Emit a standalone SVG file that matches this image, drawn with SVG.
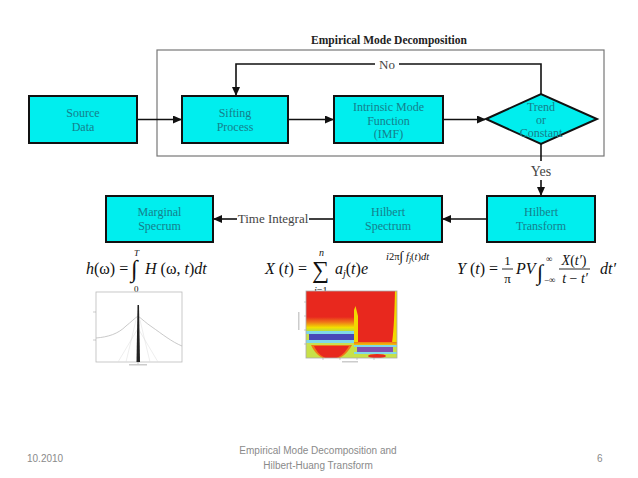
<svg xmlns="http://www.w3.org/2000/svg" width="638" height="478" viewBox="0 0 638 478">
<defs>
<style>
.box{fill:#00eeee;stroke:#111;stroke-width:2}
.bt{font-family:"Liberation Serif",serif;font-size:12px;fill:#15808c;text-anchor:middle}
.ln{fill:none;stroke:#111;stroke-width:1.6}
.lbl{font-family:"Liberation Serif",serif;font-size:13px;fill:#444;text-anchor:middle}
.fm{font-family:"Liberation Serif",serif;fill:#111;font-style:italic}
.fr{font-family:"Liberation Serif",serif;fill:#111;font-style:normal}
.ft{font-family:"Liberation Sans",sans-serif;font-size:10px;fill:#8a8a8a}
</style>
<marker id="ah" markerWidth="9" markerHeight="8" refX="8" refY="4" orient="auto" markerUnits="userSpaceOnUse">
<path d="M0,0 L9,4 L0,8 Z" fill="#111"/>
</marker>
<linearGradient id="gl" x1="0" y1="0" x2="0" y2="1">
<stop offset="0" stop-color="#e8281e"/>
<stop offset="0.35" stop-color="#f07818"/>
<stop offset="0.7" stop-color="#f2e000"/>
<stop offset="1" stop-color="#a8dc50"/>
</linearGradient>
<linearGradient id="gr" x1="0" y1="0" x2="0" y2="1">
<stop offset="0" stop-color="#f07818"/>
<stop offset="1" stop-color="#f2e000"/>
</linearGradient>
<clipPath id="cp"><rect x="306" y="291" width="91" height="67"/></clipPath>
</defs>

<g id="emd-frame">
<rect x="157" y="50" width="447" height="106" fill="none" stroke="#777" stroke-width="1.2"/>
<text x="389" y="44" font-family="Liberation Serif,serif" font-size="11.5" font-weight="bold" fill="#222" text-anchor="middle">Empirical Mode Decomposition</text>
</g>

<g id="connectors">
<line class="ln" x1="137" y1="119.5" x2="181" y2="119.5" marker-end="url(#ah)"/>
<line class="ln" x1="288" y1="119.5" x2="333" y2="119.5" marker-end="url(#ah)"/>
<line class="ln" x1="443" y1="119.5" x2="485" y2="119.5" marker-end="url(#ah)"/>
<polyline class="ln" points="541,94 541,64 399,64"/>
<polyline class="ln" points="375,64 236,64 236,95" marker-end="url(#ah)"/>
<text class="lbl" x="387" y="68.5">No</text>
<line class="ln" x1="541" y1="144" x2="541" y2="161"/>
<text class="lbl" x="541" y="176" style="font-size:14px">Yes</text>
<line class="ln" x1="541" y1="180" x2="541" y2="195" marker-end="url(#ah)"/>
<line class="ln" x1="487" y1="219" x2="443" y2="219" marker-end="url(#ah)"/>
<line class="ln" x1="334" y1="219" x2="309" y2="219"/>
<text class="lbl" x="273" y="223">Time Integral</text>
<line class="ln" x1="237" y1="219" x2="214" y2="219" marker-end="url(#ah)"/>
</g>

<g id="source-data">
<rect class="box" x="29" y="96" width="108" height="47"/>
<text class="bt" x="83" y="117">Source</text>
<text class="bt" x="83" y="131">Data</text>
</g>
<g id="sifting-process">
<rect class="box" x="182" y="96" width="106" height="47"/>
<text class="bt" x="235" y="117">Sifting</text>
<text class="bt" x="235" y="131">Process</text>
</g>
<g id="imf">
<rect class="box" x="334" y="96" width="109" height="47"/>
<text class="bt" x="388.5" y="111">Intrinsic Mode</text>
<text class="bt" x="388.5" y="125">Function</text>
<text class="bt" x="388.5" y="138">(IMF)</text>
</g>
<g id="trend-or-constant">
<polygon class="box" points="486,119 541,94 597,119 541,144"/>
<text class="bt" x="541" y="111">Trend</text>
<text class="bt" x="541" y="124">or</text>
<text class="bt" x="541" y="137">Constant</text>
</g>
<g id="hilbert-transform">
<rect class="box" x="487" y="196" width="108" height="46"/>
<text class="bt" x="541" y="216">Hilbert</text>
<text class="bt" x="541" y="230">Transform</text>
</g>
<g id="hilbert-spectrum">
<rect class="box" x="334" y="196" width="108" height="46"/>
<text class="bt" x="388" y="216">Hilbert</text>
<text class="bt" x="388" y="230">Spectrum</text>
</g>
<g id="marginal-spectrum">
<rect class="box" x="106" y="196" width="107" height="46"/>
<text class="bt" x="159.5" y="216">Marginal</text>
<text class="bt" x="159.5" y="230">Specrum</text>
</g>

<g id="formula-h" style="font-size:16px">
<text class="fm" x="86" y="274">h<tspan class="fr">(ω) =</tspan></text>
<text class="fr" x="131" y="277" style="font-size:24px">∫</text>
<text class="fm" x="134" y="256" style="font-size:9px">T</text>
<text class="fr" x="134" y="292" style="font-size:9px">0</text>
<text class="fm" x="145" y="274">H<tspan class="fr"> (ω, </tspan>t<tspan class="fr">)</tspan>dt</text>
</g>

<g id="formula-x" style="font-size:16px">
<text class="fm" x="265" y="274">X<tspan class="fr"> (</tspan>t<tspan class="fr">) =</tspan></text>
<text class="fr" x="312" y="278" style="font-size:24px">∑</text>
<text class="fm" x="319" y="256" style="font-size:10px">n</text>
<text class="fm" x="314" y="294" style="font-size:10px">j<tspan class="fr">=1</tspan></text>
<text class="fm" x="335" y="274">a<tspan style="font-size:10px" dy="3">j</tspan><tspan class="fr" dy="-3">(</tspan>t<tspan class="fr">)</tspan>e</text>
<text class="fm" x="386" y="260" style="font-size:10.5px">i<tspan class="fr">2π</tspan><tspan class="fr" style="font-size:14px" dy="1">∫</tspan><tspan dy="-1"> f</tspan><tspan style="font-size:8px" dy="2">j</tspan><tspan class="fr" dy="-2">(</tspan>t<tspan class="fr">)</tspan>dt</text>
</g>

<g id="formula-y" style="font-size:16px">
<text class="fm" x="457" y="274">Y<tspan class="fr"> (</tspan>t<tspan class="fr">) =</tspan></text>
<text class="fr" x="507.5" y="265" style="font-size:13px" text-anchor="middle">1</text>
<line x1="502" y1="269" x2="513" y2="269" stroke="#111" stroke-width="0.9"/>
<text class="fr" x="507.5" y="283" style="font-size:13px" text-anchor="middle">π</text>
<text class="fm" x="516" y="274">PV</text>
<text class="fr" x="537" y="280" style="font-size:22px">∫</text>
<text class="fr" x="546" y="262" style="font-size:9px">∞</text>
<text class="fr" x="544" y="283" style="font-size:9px">−∞</text>
<text class="fm" x="574" y="265" style="font-size:14px" text-anchor="middle">X<tspan class="fr">(</tspan>t′<tspan class="fr">)</tspan></text>
<line x1="559" y1="269" x2="590" y2="269" stroke="#111" stroke-width="0.9"/>
<text class="fm" x="575" y="283" style="font-size:14px" text-anchor="middle">t <tspan class="fr">−</tspan> t′</text>
<text class="fm" x="600" y="274">dt′</text>
</g>

<g id="marginal-plot">
<rect x="96" y="292" width="86" height="70" fill="#fff" stroke="#bbb" stroke-width="0.8"/>
<path d="M96,338 C108,337 118,334 126,326 C131,322 135,318 138,316 C142,319 146,323 152,327 C162,334 172,342 182,346" fill="none" stroke="#bbb" stroke-width="0.8"/>
<path d="M126,362 L136,320 M150,362 L140,320 M118,362 L137,330 M158,362 L139,330" fill="none" stroke="#ddd" stroke-width="0.5"/>
<path d="M137.5,305 L139,305 L140,362 L136.5,362 Z" fill="#222"/>
<line x1="138" y1="362" x2="138" y2="365" stroke="#999" stroke-width="0.5"/>
<line x1="96" y1="312" x2="93" y2="312" stroke="#999" stroke-width="0.5"/>
<line x1="96" y1="340" x2="93" y2="340" stroke="#999" stroke-width="0.5"/>
<rect x="129" y="364" width="18" height="1.5" fill="#ccc"/>
</g>

<g id="hilbert-plot">
<g clip-path="url(#cp)">
<rect x="306" y="291" width="91" height="67" fill="#c8e048"/>
<rect x="306" y="291" width="50" height="27" fill="#e8281e"/>
<rect x="306" y="317" width="50" height="15" fill="url(#gl)"/>
<rect x="306" y="331" width="50" height="3" fill="#80d8e8"/>
<rect x="309" y="334" width="46" height="6" fill="#4848b8"/>
<rect x="306" y="340" width="50" height="3" fill="#80d8e8"/>
<rect x="306" y="343" width="50" height="3" fill="#c8e050"/>
<path d="M311,345 L352,345 C346,356 338,360 331,360 C324,360 316,356 311,345 Z" fill="#f07818"/>
<path d="M314,346 L349,346 C344,355 337,359 331,359 C325,359 318,355 314,346 Z" fill="#e8281e"/>
<rect x="354" y="291" width="43" height="53" fill="#e8281e"/>
<path d="M354,343 L354,310 L355.5,306 L358,316 L358,343 Z" fill="#f2d800"/>
<path d="M392,343 C394,330 394.5,310 395,291 L397,291 L397,343 Z" fill="#f2d800"/>
<rect x="354" y="342" width="43" height="4" fill="url(#gr)"/>
<rect x="354" y="345" width="43" height="2" fill="#80d8e8"/>
<rect x="357" y="347" width="36" height="5" fill="#8050b0"/>
<rect x="354" y="352" width="43" height="2" fill="#80d8e8"/>
<ellipse cx="377" cy="356" rx="9" ry="2" fill="#e8281e"/>
</g>
<rect x="306" y="291" width="91" height="67" fill="none" stroke="#aaa" stroke-width="0.8"/>
<path d="M306,302 h-2 M306,316 h-2 M306,330 h-2 M306,344 h-2 M323,358 v2 M340,358 v2 M357,358 v2 M374,358 v2" stroke="#999" stroke-width="0.5"/>
<rect x="298" y="312" width="1.5" height="18" fill="#ccc"/>
<rect x="342" y="361" width="16" height="1.5" fill="#ccc"/>
</g>

<g id="footer">
<text class="ft" x="27" y="462">10.2010</text>
<text class="ft" x="318" y="454" text-anchor="middle">Empirical Mode Decomposition and</text>
<text class="ft" x="318" y="469" text-anchor="middle">Hilbert-Huang Transform</text>
<text class="ft" x="597" y="462">6</text>
</g>
</svg>
